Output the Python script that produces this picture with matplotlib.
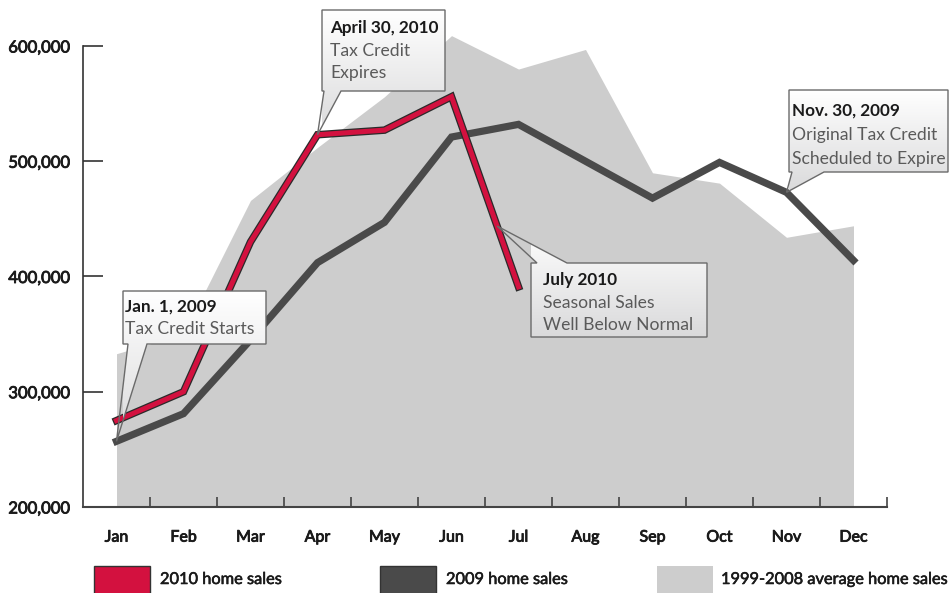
import numpy as np
import matplotlib
matplotlib.use("Agg")
import matplotlib.pyplot as plt
from matplotlib.patches import Polygon, Rectangle
import matplotlib.patheffects as pe

plt.rcParams['font.family'] = ['Lato', 'DejaVu Sans']

# ---------------- data ----------------
months = ['Jan', 'Feb', 'Mar', 'Apr', 'May', 'Jun', 'Jul', 'Aug', 'Sep', 'Oct', 'Nov', 'Dec']
sales_2010 = [275000, 300000, 430000, 523000, 527000, 556000, 391000]
sales_2009 = [257000, 281000, 345000, 412000, 447000, 521000, 532000, 500000, 468000, 499000, 473000, 414000]
avg_1999_2008 = [333000, 350000, 466000, 512000, 556000, 609000, 580000, 597000, 490000, 481000, 434000, 444000]
y_ticks = [200000, 300000, 400000, 500000, 600000]
legend_labels = ['2010 home sales', '2009 home sales', '1999-2008 average home sales']

RED = '#d3113f'
DARK = '#4a4a4a'
GRAY = '#cdcdcd'

W, H = 949, 593
fig = plt.figure(figsize=(W / 100, H / 100), dpi=100)
ax = fig.add_axes([83 / W, (H - 507) / H, (887 - 83) / W, (507 - 46) / H])
ax.set_xlim(-0.5, 11.5)
ax.set_ylim(200000, 600000)
ax.patch.set_alpha(0)

x_all = np.arange(len(months))
ax.fill_between(x_all, 200000, avg_1999_2008, color=GRAY, lw=0, clip_on=False, zorder=1)
ax.plot(x_all, sales_2009, color=DARK, lw=5.2, solid_joinstyle='miter', zorder=3)
x10 = np.arange(len(sales_2010))
ax.plot(x10, sales_2010, color=RED, lw=3.6, solid_joinstyle='miter', zorder=4,
        path_effects=[pe.Stroke(linewidth=5.4, foreground='#2a2a2a'), pe.Normal()])

for s in ['top', 'right']:
    ax.spines[s].set_visible(False)
ax.spines['left'].set_color('#333333')
ax.spines['left'].set_linewidth(1.2)
ax.spines['bottom'].set_color('#444444')
ax.spines['bottom'].set_linewidth(1.5)

thick = [pe.withStroke(linewidth=0.6, foreground='#1a1a1a')]
ax.set_yticks(y_ticks)
ax.set_yticklabels([f'{v:,}' for v in y_ticks])
ax.tick_params(axis='y', direction='in', length=14.4, width=1.2, color='#333333',
               pad=9.5, labelsize=12, labelcolor='#1a1a1a')
ax.set_xticks(x_all)
ax.set_xticklabels(months)
ax.tick_params(axis='x', which='major', length=0, pad=17, labelsize=11.5, labelcolor='#1a1a1a')
ax.set_xticks(np.arange(0.5, 12, 1), minor=True)
ax.tick_params(axis='x', which='minor', direction='in', length=7.5, width=1.2, color='#444444')
for lab in ax.get_yticklabels() + ax.get_xticklabels():
    lab.set_path_effects(thick)

# ---------------- overlay for callouts & legend ----------------
ov = fig.add_axes([0, 0, 1, 1], zorder=5)
ov.set_xlim(0, W)
ov.set_ylim(H, 0)
ov.axis('off')
ov.patch.set_alpha(0)


def to_px(x, y):
    dx, dy = ax.transData.transform((x, y))
    return dx, H - dy


grad = np.linspace(0, 1, 64).reshape(-1, 1)
cmap = matplotlib.colors.LinearSegmentedColormap.from_list('g', ['#ffffff', '#dadadb'])


def callout(box, base, tip, title, lines, tx, ty0, dy, pointer='bottom'):
    x0, y0, x1, y1 = box
    b1, b2 = base
    if pointer == 'bottom':
        verts = [(x0, y0), (x1, y0), (x1, y1), (b2, y1), tip, (b1, y1), (x0, y1)]
    else:
        verts = [(x0, y0), (b1, y0), tip, (b2, y0), (x1, y0), (x1, y1), (x0, y1)]
    poly = Polygon(verts, closed=True, facecolor='none', edgecolor='#6a6a6a', lw=1.0, zorder=7)
    ov.add_patch(poly)
    ys = [v[1] for v in verts]
    im = ov.imshow(grad, extent=(x0, x1, max(ys), min(ys)), cmap=cmap, aspect='auto',
                   interpolation='bilinear', zorder=6)
    im.set_clip_path(poly)
    ov.text(tx, ty0, title, fontsize=12.3, fontweight='bold', color='#1a1a1a',
            va='baseline', ha='left', zorder=8)
    for i, ln in enumerate(lines):
        ov.text(tx, ty0 + dy * (i + 1), ln, fontsize=12.6, color='#5a5a5a',
                va='baseline', ha='left', zorder=8)


callout((322, 10, 445, 91), (324, 341), to_px(3, sales_2010[3]),
        'April 30, 2010', ['Tax Credit', 'Expires'], 330, 33, 22.5)
callout((789, 90, 948, 172), (792, 824), to_px(10, sales_2009[10]),
        'Nov. 30, 2009', ['Original Tax Credit', 'Scheduled to Expire'], 792, 116, 24)
callout((123, 291, 266, 344), (128, 147), to_px(0, sales_2009[0]),
        'Jan. 1, 2009', ['Tax Credit Starts'], 125, 312, 21.5)
f = 0.68
tip_jul = to_px(5 + f, sales_2010[5] + f * (sales_2010[6] - sales_2010[5]))
callout((531, 263, 707, 337), (537, 567), tip_jul,
        'July 2010', ['Seasonal Sales', 'Well Below Normal'], 543, 285, 22.5, pointer='top')

# legend
leg_items = [(94, RED, '#333333'), (380, DARK, '#333333'), (657, GRAY, 'none')]
text_x = [160, 446, 721]
for (lx, fc, ec), tx, lab in zip(leg_items, text_x, legend_labels):
    ov.add_patch(Rectangle((lx, 566), 56, 32, facecolor=fc, edgecolor=ec, lw=1.0, zorder=6,
                           clip_on=False))
    ov.text(tx, 584, lab, fontsize=11.8, color='#1a1a1a', va='baseline', ha='left', zorder=8,
            path_effects=[pe.withStroke(linewidth=0.4, foreground='#1a1a1a')])

fig.savefig('out.png', dpi=100)
